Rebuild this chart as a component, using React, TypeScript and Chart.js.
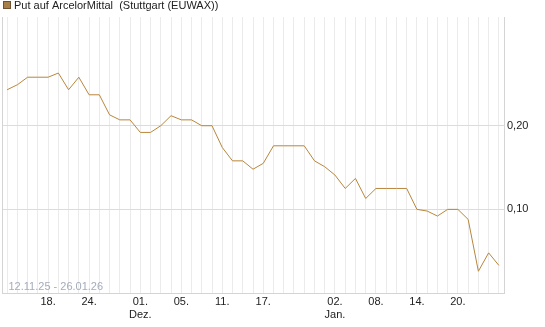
import React, { useEffect, useRef } from "react";
import { Chart, registerables } from "chart.js";

Chart.register(...registerables);

const dates: string[] = [
  "12.11.", "13.11.", "14.11.", "17.11.", "18.11.", "19.11.", "20.11.", "21.11.",
  "24.11.", "25.11.", "26.11.", "27.11.", "28.11.", "01.12.", "02.12.", "03.12.",
  "04.12.", "05.12.", "08.12.", "09.12.", "10.12.", "11.12.", "12.12.", "15.12.",
  "16.12.", "17.12.", "18.12.", "19.12.", "22.12.", "23.12.", "29.12.", "30.12.",
  "02.01.", "05.01.", "06.01.", "07.01.", "08.01.", "09.01.", "12.01.", "13.01.",
  "14.01.", "15.01.", "16.01.", "19.01.", "20.01.", "21.01.", "22.01.", "23.01.",
  "26.01.",
];

const prices: number[] = [
  0.243, 0.249, 0.258, 0.258, 0.258, 0.263, 0.243, 0.258, 0.237, 0.237,
  0.213, 0.207, 0.207, 0.192, 0.192, 0.2, 0.212, 0.207, 0.207, 0.2,
  0.2, 0.174, 0.158, 0.158, 0.148, 0.155, 0.176, 0.176, 0.176, 0.176,
  0.158, 0.151, 0.141, 0.125, 0.137, 0.113, 0.125, 0.125, 0.125, 0.125,
  0.1, 0.098, 0.092, 0.1, 0.1, 0.088, 0.026, 0.048, 0.033,
];

const tickDates: string[] = ["18.11.", "24.11.", "01.12.", "05.12.", "11.12.", "17.12.", "02.01.", "08.01.", "14.01.", "20.01."];
const tickTexts: (string | string[])[] = ["18.", "24.", ["01.", "Dez."], "05.", "11.", "17.", ["02.", "Jan."], "08.", "14.", "20."];
const yTicks: number[] = [0.1, 0.2];

const title = "Put auf ArcelorMittal  (Stuttgart (EUWAX))";
const rangeText = "12.11.25 - 26.01.26";

const FONT = "Arial, 'Liberation Sans', sans-serif";
const LINE = "#b8863b";

export default function App() {
  const ref = useRef<HTMLCanvasElement | null>(null);

  useEffect(() => {
    document.body.style.margin = "0";
    const canvas = ref.current;
    if (!canvas) return;

    const overlay = {
      id: "overlay",
      afterDraw(chart: any) {
        const ctx = chart.ctx;
        const a = chart.chartArea;
        ctx.save();
        // left border
        ctx.strokeStyle = "#d4d4d4";
        ctx.lineWidth = 1;
        ctx.beginPath();
        ctx.moveTo(Math.round(a.left) + 0.5, a.top);
        ctx.lineTo(Math.round(a.left) + 0.5, a.bottom);
        ctx.stroke();
        // legend
        ctx.fillStyle = "#a87f48";
        ctx.fillRect(3, 1, 8, 8);
        ctx.strokeStyle = "#6e5330";
        ctx.strokeRect(3.5, 1.5, 7, 7);
        ctx.fillStyle = "#222";
        ctx.font = "11px " + FONT;
        ctx.textBaseline = "middle";
        ctx.textAlign = "left";
        ctx.fillText(title, 14, 5.5);
        // range
        ctx.fillStyle = "#a4abbc";
        ctx.fillText(rangeText, 8.5, 287);
        ctx.restore();
      },
    };

    const chart = new Chart(canvas, {
      type: "line",
      data: {
        labels: dates,
        datasets: [
          {
            data: prices,
            borderColor: LINE,
            borderWidth: 1,
            pointRadius: 0,
            tension: 0,
            fill: false,
          },
        ],
      },
      options: {
        animation: false,
        responsive: false,
        layout: { padding: { top: 17, left: 2, right: 0, bottom: 0 } },
        plugins: { legend: { display: false }, tooltip: { enabled: false } },
        scales: {
          x: {
            type: "category",
            offset: true,
            grid: { offset: false, color: "#ebebeb", drawTicks: false },
            border: { display: true, color: "#d4d4d4" },
            ticks: {
              autoSkip: false,
              maxRotation: 0,
              padding: 2,
              color: "#222",
              font: { size: 11, family: FONT },
              callback: (_v: any, i: number) => {
                const k = tickDates.indexOf(dates[i]);
                return k >= 0 ? tickTexts[k] : "";
              },
            },
            afterFit: (s: any) => {
              s.height = 34;
            },
          },
          y: {
            position: "right",
            min: 0,
            max: 0.33,
            grid: { color: "#dcdcdc", drawTicks: false },
            border: { display: true, color: "#d4d4d4" },
            afterBuildTicks: (s: any) => {
              s.ticks = yTicks.map((v) => ({ value: v }));
            },
            ticks: {
              padding: 3,
              color: "#222",
              font: { size: 11, family: FONT },
              callback: (v: any) => Number(v).toFixed(2).replace(".", ","),
            },
            afterFit: (s: any) => {
              s.width = 41;
            },
          },
        },
      },
      plugins: [overlay],
    });

    return () => chart.destroy();
  }, []);

  return (
    <div style={{ width: 545, height: 327 }}>
      <canvas ref={ref} width={545} height={327} style={{ display: "block" }} />
    </div>
  );
}
